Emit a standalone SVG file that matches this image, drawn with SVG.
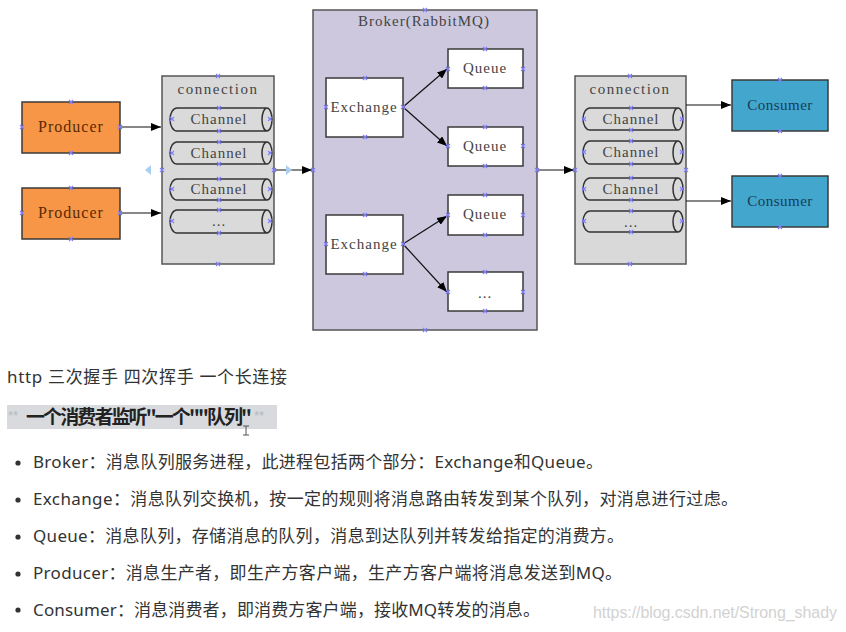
<svg xmlns="http://www.w3.org/2000/svg" xmlns:xlink="http://www.w3.org/1999/xlink" width="846" height="632" viewBox="0 0 846 632">
<style>
.lbl{font-family:"Liberation Serif","Noto Sans CJK SC",serif;font-size:15px;letter-spacing:1px;text-anchor:middle;fill:#444}
.box{stroke:#3a3a3a;stroke-width:1.5}
.conn{fill:#d9d9d9;stroke:#555;stroke-width:1.5}
.chan{fill:#dadada;stroke:#333;stroke-width:1.5}
.wire{stroke:#111;stroke-width:1.2;fill:none}
.txt{font-family:"Noto Sans","Noto Sans CJK SC",sans-serif;font-size:17px;fill:#333}
.cp{stroke:#7f7fff;stroke-width:1.1;fill:none}
</style>
<defs>
<marker id="ah" markerWidth="10" markerHeight="8" refX="10" refY="4" orient="auto" markerUnits="userSpaceOnUse">
<path d="M0,0 L10,4 L0,8 z" fill="#000"/>
</marker>
<symbol id="x" overflow="visible"><path class="cp" d="M-2,-2 L2,2 M-2,2 L2,-2"/></symbol>
</defs>
<rect width="846" height="632" fill="#fff"/>

<g id="producer1">
<rect class="box" x="22" y="102" width="98" height="51" fill="#f79646"/>
<text class="lbl" x="71" y="132" style="font-size:16px;fill:#5a2a05">Producer</text>
</g>
<g id="producer2">
<rect class="box" x="22" y="188" width="98" height="51" fill="#f79646"/>
<text class="lbl" x="71" y="218" style="font-size:16px;fill:#5a2a05">Producer</text>
</g>

<g id="connection-left">
<rect class="conn" x="162" y="76" width="112" height="188"/>
<text class="lbl" x="218" y="94" style="letter-spacing:1.5px">connection</text>
<g id="channel-l1"><path class="chan" d="M177,108 H267 A5,11.5 0 0 1 267,131 H177 A7,11.5 0 0 1 177,108 Z M267,108 A5,11.5 0 0 0 267,131"/><text class="lbl" x="219" y="124">Channel</text></g>
<g id="channel-l2"><path class="chan" d="M177,142 H267 A5,11 0 0 1 267,164 H177 A7,11 0 0 1 177,142 Z M267,142 A5,11 0 0 0 267,164"/><text class="lbl" x="219" y="158">Channel</text></g>
<g id="channel-l3"><path class="chan" d="M177,179 H267 A5,10.5 0 0 1 267,200 H177 A7,10.5 0 0 1 177,179 Z M267,179 A5,10.5 0 0 0 267,200"/><text class="lbl" x="219" y="194">Channel</text></g>
<g id="channel-l4"><path class="chan" d="M177,210 H267 A5,11.5 0 0 1 267,233 H177 A7,11.5 0 0 1 177,210 Z M267,210 A5,11.5 0 0 0 267,233"/><text class="lbl" x="219" y="226">...</text></g>
</g>

<g id="broker">
<rect x="313" y="10" width="224" height="320" fill="#cdc8de" stroke="#555" stroke-width="1.5"/>
<text class="lbl" x="424" y="26">Broker(RabbitMQ)</text>
</g>
<g id="exchange1"><rect class="box" x="326" y="78" width="77" height="59" fill="#fff"/><text class="lbl" x="364" y="112">Exchange</text></g>
<g id="exchange2"><rect class="box" x="326" y="215" width="77" height="59" fill="#fff"/><text class="lbl" x="364" y="249">Exchange</text></g>
<g id="queue1"><rect class="box" x="448" y="49" width="75" height="39" fill="#fff"/><text class="lbl" x="485" y="73">Queue</text></g>
<g id="queue2"><rect class="box" x="448" y="127" width="75" height="39" fill="#fff"/><text class="lbl" x="485" y="151">Queue</text></g>
<g id="queue3"><rect class="box" x="448" y="195" width="75" height="40" fill="#fff"/><text class="lbl" x="485" y="219">Queue</text></g>
<g id="queue4"><rect class="box" x="448" y="272" width="75" height="39" fill="#fff"/><text class="lbl" x="485" y="298">...</text></g>

<g id="connection-right">
<rect class="conn" x="575" y="76" width="111" height="188"/>
<text class="lbl" x="630" y="94" style="letter-spacing:1.5px">connection</text>
<g id="channel-r1"><path class="chan" d="M590,108 H678 A5,11 0 0 1 678,130 H590 A7,11 0 0 1 590,108 Z M678,108 A5,11 0 0 0 678,130"/><text class="lbl" x="631" y="124">Channel</text></g>
<g id="channel-r2"><path class="chan" d="M590,141 H678 A5,11.5 0 0 1 678,164 H590 A7,11.5 0 0 1 590,141 Z M678,141 A5,11.5 0 0 0 678,164"/><text class="lbl" x="631" y="157">Channel</text></g>
<g id="channel-r3"><path class="chan" d="M590,178 H678 A5,11 0 0 1 678,200 H590 A7,11 0 0 1 590,178 Z M678,178 A5,11 0 0 0 678,200"/><text class="lbl" x="631" y="194">Channel</text></g>
<g id="channel-r4"><path class="chan" d="M590,211 H678 A5,10.5 0 0 1 678,232 H590 A7,10.5 0 0 1 590,211 Z M678,211 A5,10.5 0 0 0 678,232"/><text class="lbl" x="631" y="227">...</text></g>
</g>

<g id="consumer1"><rect class="box" x="732" y="80" width="96" height="51" fill="#42a6cd"/><text class="lbl" x="780" y="110" style="letter-spacing:0.5px;fill:#173d55">Consumer</text></g>
<g id="consumer2"><rect class="box" x="732" y="176" width="96" height="51" fill="#42a6cd"/><text class="lbl" x="780" y="206" style="letter-spacing:0.5px;fill:#173d55">Consumer</text></g>

<g id="connectors">
<path class="wire" d="M120,127 H161" marker-end="url(#ah)"/>
<path class="wire" d="M120,213 H161" marker-end="url(#ah)"/>
<path class="wire" d="M274,170 H312" marker-end="url(#ah)"/>
<path class="wire" d="M403,107 L447,69" marker-end="url(#ah)"/>
<path class="wire" d="M403,107 L447,146" marker-end="url(#ah)"/>
<path class="wire" d="M403,244 L447,216" marker-end="url(#ah)"/>
<path class="wire" d="M403,244 L447,292" marker-end="url(#ah)"/>
<path class="wire" d="M537,170 H574" marker-end="url(#ah)"/>
<path class="wire" d="M686,105 H731" marker-end="url(#ah)"/>
<path class="wire" d="M686,201 H731" marker-end="url(#ah)"/>
<path d="M151,165 L145,170 L151,175 z" fill="#a8cff2"/>
<path d="M286,165 L292,170 L286,175 z" fill="#a8cff2"/>
</g>

<g id="connection-points">
<use href="#x" x="71" y="102"/><use href="#x" x="71" y="153"/><use href="#x" x="22" y="127"/><use href="#x" x="120" y="127"/>
<use href="#x" x="71" y="188"/><use href="#x" x="71" y="239"/><use href="#x" x="22" y="213"/><use href="#x" x="120" y="213"/>
<use href="#x" x="218" y="76"/><use href="#x" x="218" y="264"/><use href="#x" x="162" y="170"/><use href="#x" x="274" y="170"/>
<use href="#x" x="219" y="108"/><use href="#x" x="219" y="131"/><use href="#x" x="172" y="119"/><use href="#x" x="270" y="119"/>
<use href="#x" x="219" y="142"/><use href="#x" x="219" y="164"/><use href="#x" x="172" y="153"/><use href="#x" x="270" y="153"/>
<use href="#x" x="219" y="179"/><use href="#x" x="219" y="200"/><use href="#x" x="172" y="189"/><use href="#x" x="270" y="189"/>
<use href="#x" x="219" y="210"/><use href="#x" x="219" y="233"/><use href="#x" x="172" y="221"/><use href="#x" x="270" y="221"/>
<use href="#x" x="425" y="10"/><use href="#x" x="425" y="330"/><use href="#x" x="313" y="170"/><use href="#x" x="537" y="170"/>
<use href="#x" x="365" y="78"/><use href="#x" x="365" y="137"/><use href="#x" x="326" y="107"/><use href="#x" x="403" y="107"/>
<use href="#x" x="365" y="215"/><use href="#x" x="365" y="274"/><use href="#x" x="326" y="244"/><use href="#x" x="403" y="244"/>
<use href="#x" x="485" y="49"/><use href="#x" x="485" y="88"/><use href="#x" x="448" y="69"/><use href="#x" x="523" y="69"/>
<use href="#x" x="485" y="127"/><use href="#x" x="485" y="166"/><use href="#x" x="448" y="146"/><use href="#x" x="523" y="146"/>
<use href="#x" x="485" y="195"/><use href="#x" x="485" y="235"/><use href="#x" x="448" y="215"/><use href="#x" x="523" y="215"/>
<use href="#x" x="485" y="272"/><use href="#x" x="485" y="311"/><use href="#x" x="448" y="292"/><use href="#x" x="523" y="292"/>
<use href="#x" x="630" y="76"/><use href="#x" x="630" y="264"/><use href="#x" x="575" y="170"/><use href="#x" x="686" y="170"/>
<use href="#x" x="631" y="108"/><use href="#x" x="631" y="130"/><use href="#x" x="584" y="119"/><use href="#x" x="682" y="119"/>
<use href="#x" x="631" y="141"/><use href="#x" x="631" y="164"/><use href="#x" x="584" y="152"/><use href="#x" x="682" y="152"/>
<use href="#x" x="631" y="178"/><use href="#x" x="631" y="200"/><use href="#x" x="584" y="189"/><use href="#x" x="682" y="189"/>
<use href="#x" x="631" y="211"/><use href="#x" x="631" y="232"/><use href="#x" x="584" y="221"/><use href="#x" x="682" y="221"/>
<use href="#x" x="780" y="80"/><use href="#x" x="780" y="131"/>
<use href="#x" x="780" y="176"/><use href="#x" x="780" y="227"/>
</g>

<g id="notes">
<text class="txt" x="7" y="383" textLength="280">http 三次握手 四次挥手  一个长连接</text>
<rect x="7" y="405" width="270" height="24" fill="#d8dadd"/>
<text x="8" y="420" style="font-family:'Liberation Sans',sans-serif;font-size:13px;fill:#b5b9be">**</text>
<text x="254" y="420" style="font-family:'Liberation Sans',sans-serif;font-size:13px;fill:#b5b9be">**</text>
<text x="26" y="424" style="font-family:'Noto Sans CJK SC',sans-serif;font-size:19px;font-weight:bold;fill:#222" textLength="226">一个消费者监听"一个""队列"</text>
<path d="M243,426 H249 M246,426 V435 M243,435 H249" stroke="#555" stroke-width="1" fill="none"/>
<g fill="#333">
<circle cx="18" cy="463" r="2.6"/><circle cx="18" cy="500" r="2.6"/><circle cx="18" cy="537" r="2.6"/><circle cx="18" cy="574" r="2.6"/><circle cx="18" cy="610" r="2.6"/>
</g>
<text class="txt" x="33" y="468" textLength="570">Broker：消息队列服务进程，此进程包括两个部分：Exchange和Queue。</text>
<text class="txt" x="33" y="505" textLength="705">Exchange：消息队列交换机，按一定的规则将消息路由转发到某个队列，对消息进行过虑。</text>
<text class="txt" x="33" y="542" textLength="591">Queue：消息队列，存储消息的队列，消息到达队列并转发给指定的消费方。</text>
<text class="txt" x="33" y="579" textLength="589">Producer：消息生产者，即生产方客户端，生产方客户端将消息发送到MQ。</text>
<text class="txt" x="33" y="616" textLength="507">Consumer：消息消费者，即消费方客户端，接收MQ转发的消息。</text>
<text x="593" y="618" style="font-family:'Liberation Sans',sans-serif;font-size:16px;fill:#d2d2d2" textLength="244">https://blog.csdn.net/Strong_shady</text>
</g>
</svg>
